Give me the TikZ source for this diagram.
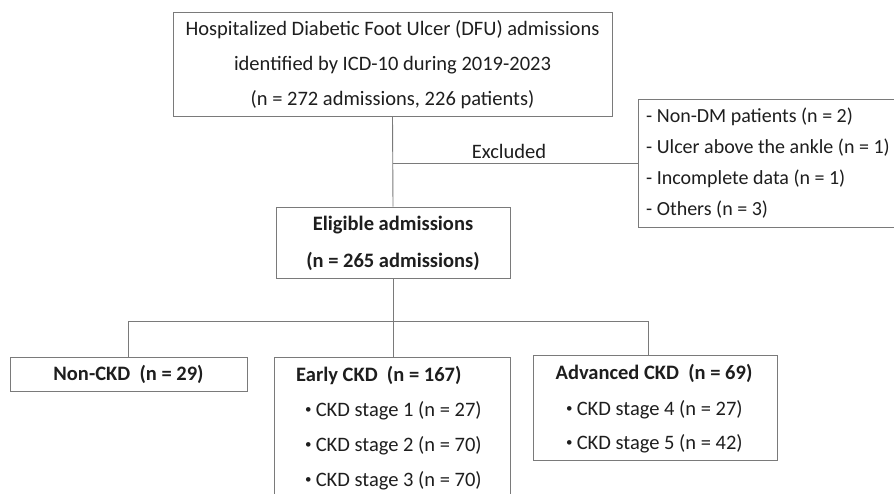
\documentclass[tikz,border=0pt]{standalone}
\usepackage{fontspec}
\setmainfont{Carlito}
\newcommand{\smallbul}{\raisebox{0.12em}{\fontsize{13}{13}\selectfont •}\hspace{0.2em}}
\begin{document}
\begin{tikzpicture}[x=1pt,y=-1pt,
  box/.style={draw=linegray, line width=0.9pt, inner sep=0pt, fill=white},
  txt/.style={text=textcol, inner sep=0pt, font=\fontsize{20.5}{35}\selectfont},
  conn/.style={draw=linegray, line width=0.9pt}]
\definecolor{linegray}{HTML}{7A7A7A}
\definecolor{textcol}{HTML}{1E1E1E}
\useasboundingbox[fill=white] (0,0) rectangle (894,493);
\begin{scope}
\clip (0,0) rectangle (894,493);
% boxes
\node[box, minimum width=439pt, minimum height=104pt] (top) at (392.5,64) {};
\node[txt, align=center] (toptxt) at (392.5,65) {Hospitalized Diabetic Foot Ulcer (DFU) admissions\\identified by ICD-10 during 2019-2023\\(n = 272 admissions, 226 patients)};
\node[box, minimum width=280pt, minimum height=128pt, anchor=west] (excl) at (638,163) {};
\node[txt, align=left, anchor=west, font=\fontsize{20}{31}\selectfont] (excltxt) at (646,163.5) {- Non-DM patients (n = 2)\\- Ulcer above the ankle (n = 1)\\- Incomplete data (n = 1)\\- Others (n = 3)};
\node[box, minimum width=234pt, minimum height=71pt] (elig) at (393,242.5) {};
\node[txt, align=center, font=\fontsize{20.5}{37}\selectfont\bfseries] (eligtxt) at (393,243.5) {Eligible admissions\\(n = 265 admissions)};
\node[box, minimum width=237pt, minimum height=34pt] (non) at (128.5,374) {};
\node[txt, font=\fontsize{20.5}{22}\selectfont\bfseries] (nontxt) at (128.5,374.5) {Non-CKD\ \ (n = 29)};
\node[box, minimum width=236pt, minimum height=160pt, anchor=north] (early) at (392,357) {};
\node[txt, anchor=west, font=\fontsize{20.5}{22}\selectfont\bfseries] (earlytitle) at (296,375.5) {Early CKD\ \ (n = 167)};
\node[txt, align=left, anchor=north west, font=\fontsize{20.5}{35}\selectfont] (earlylist) at (305,401) {\smallbul CKD stage 1 (n = 27)\\\smallbul CKD stage 2 (n = 70)\\\smallbul CKD stage 3 (n = 70)};
\node[box, minimum width=244pt, minimum height=105pt] (adv) at (655,407.5) {};
\node[txt, font=\fontsize{20.5}{22}\selectfont\bfseries] (advtitle) at (654,373.5) {Advanced CKD\ \ (n = 69)};
\node[txt, align=left, anchor=north west, font=\fontsize{20.5}{34}\selectfont] (advlist) at (566,400) {\smallbul CKD stage 4 (n = 27)\\\smallbul CKD stage 5 (n = 42)};
% excluded label
\node[txt] (exlab) at (509,151) {Excluded};
% connectors
\coordinate (branch) at (top.south |- excl.west);
\coordinate (split) at (393,321);
\coordinate (advtop) at (648,355);
\draw[conn] (top.south) -- (elig.north);
\draw[conn] (branch) -- (excl.west);
\draw[conn] (elig.south) -- (split);
\draw[conn] (non.north) |- (split);
\draw[conn] (split) -| (advtop);
\draw[conn] (split) -- (split |- early.north);
\end{scope}
\end{tikzpicture}
\end{document}
